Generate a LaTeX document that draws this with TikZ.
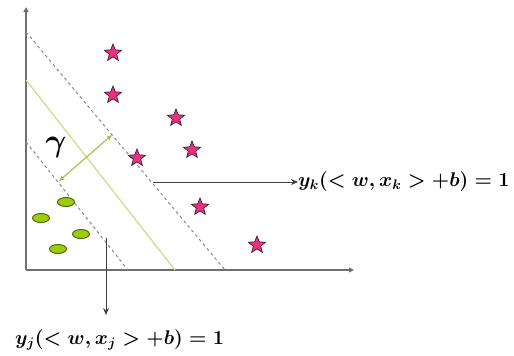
\documentclass[tikz,border=0pt]{standalone}
\usetikzlibrary{shapes.geometric,arrows.meta}
\definecolor{starpink}{HTML}{E8307E}
\definecolor{starline}{HTML}{402030}
\definecolor{ovalfill}{HTML}{9CCB10}
\definecolor{ovalline}{HTML}{4E6E00}
\definecolor{sepline}{HTML}{D6D68A}
\definecolor{gamcol}{HTML}{A6BE3C}
\definecolor{axiscol}{HTML}{707070}
\definecolor{dashcol}{HTML}{8A8A8A}
\newcommand{\marginlabel}[1]{{\mathversion{bold}$y_{#1}(<w,x_{#1}>+b)=1$}}
\tikzset{
  axisline/.style={draw=axiscol, line width=1.8pt, -{Triangle[length=5pt,width=5pt]}},
  marginline/.style={draw=dashcol, line width=1pt, dash pattern=on 3pt off 3pt},
  sepstyle/.style={draw=sepline, line width=1.2pt},
  gamarrow/.style={draw=gamcol, line width=1.1pt, {Stealth[length=6pt,width=5pt]}-{Stealth[length=6pt,width=5pt]}},
  pointer/.style={draw=black!75, line width=1pt, -{Stealth[length=7pt,width=6pt]}},
  starpt/.style={star, star points=5, star point ratio=2.3, minimum size=18pt, inner sep=0pt, fill=starpink, draw=starline, line width=0.7pt},
  ovalpt/.style={ellipse, minimum width=17pt, minimum height=9pt, inner sep=0pt, fill=ovalfill, draw=ovalline, line width=1pt},
  eqlabel/.style={font=\fontsize{17.28}{20}\selectfont, scale=1.15, inner sep=0pt, anchor=west}
}
\begin{document}
\begin{tikzpicture}[x=1pt,y=-1pt]
\useasboundingbox (0,0) rectangle (514,356);
% axes
\coordinate (o) at (26,270);
\coordinate (ytop) at (26,7);
\coordinate (xend) at (354,270);
\draw[axisline] (o) -- (ytop);
\draw[axisline] (o) -- (xend);
% margin lines and separator
\coordinate (u1) at (26,32);  \coordinate (u2) at (225,270);
\coordinate (s1) at (26,80);  \coordinate (s2) at (175,270);
\coordinate (l1) at (26,142); \coordinate (l2) at (128,270);
\draw[marginline] (u1) -- (u2);
\draw[sepstyle] (s1) -- (s2);
\draw[marginline] (l1) -- (l2);
% gamma
\coordinate (g1) at (59,181);
\coordinate (g2) at (112,135);
\draw[gamarrow] (g1) -- (g2);
\node[font=\fontsize{20.74}{24}\selectfont, scale=1.55, inner sep=0pt] (gam) at (56,147) {{\mathversion{bold}$\gamma$}};
% stars
\node[starpt] (st1) at (113,53) {};
\node[starpt] (st2) at (113,95) {};
\node[starpt] (st3) at (176,118) {};
\node[starpt] (st4) at (192,150) {};
\node[starpt] (st5) at (137,158) {};
\node[starpt] (st6) at (200,207) {};
\node[starpt] (st7) at (257,245) {};
% ovals
\node[ovalpt] (ov1) at (66,202) {};
\node[ovalpt] (ov2) at (41,218) {};
\node[ovalpt] (ov3) at (81,234) {};
\node[ovalpt] (ov4) at (58,249) {};
% labels
\node[eqlabel] (lk) at (298,182) {\marginlabel{k}};
\node[eqlabel] (lj) at (15,340) {\marginlabel{j}};
\coordinate (pk) at (153,182);
\coordinate (pj) at (106,238);
\coordinate (pjend) at (106,315);
\draw[pointer] (pk) -- (lk.west);
\draw[pointer] (pj) -- (pjend);
\end{tikzpicture}
\end{document}
